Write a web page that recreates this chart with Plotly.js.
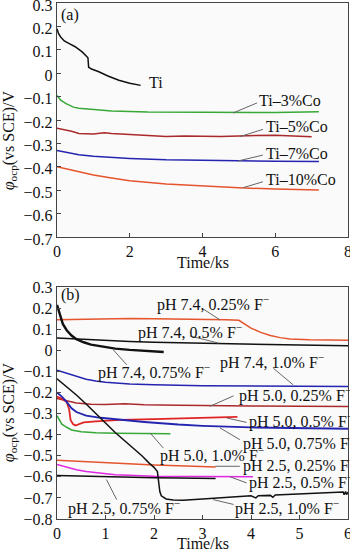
<!DOCTYPE html>
<html><head><meta charset="utf-8">
<script src="https://cdn.plot.ly/plotly-3.0.1.min.js"></script>
<style>html,body{margin:0;padding:0;background:#fff}#chart{width:350px;height:551px}</style>
</head><body><div id="chart"></div>
<script>
// ---------- Panel (a) data ----------
const tiX = [0,0.04,0.1,0.2,0.35,0.5,0.7,0.85,0.87,0.95,1.15,1.4,1.7,2.0,2.3];
const tiY = [0.19,0.17,0.155,0.138,0.125,0.113,0.09,0.066,0.025,0.018,0.006,-0.012,-0.03,-0.043,-0.052];
const co3X = [0,0.1,0.25,0.45,0.6,1,1.5,2.5,4,5,6,7.2];
const co3Y = [-0.095,-0.115,-0.13,-0.145,-0.15,-0.155,-0.162,-0.166,-0.168,-0.169,-0.168,-0.165];
const co5X = [0,0.2,0.4,0.6,0.8,1.0,1.3,1.5,2,2.5,3,3.5,4,4.5,5,5.5,6,6.5,7];
const co5Y = [-0.235,-0.24,-0.248,-0.258,-0.258,-0.26,-0.255,-0.258,-0.262,-0.265,-0.27,-0.268,-0.27,-0.27,-0.268,-0.266,-0.265,-0.268,-0.272];
const co7X = [0,0.3,0.6,1,1.5,2,3,4,5,6,7.2];
const co7Y = [-0.33,-0.34,-0.348,-0.355,-0.36,-0.364,-0.37,-0.373,-0.375,-0.376,-0.377];
const co10X = [0,0.5,1,1.5,2,3,4,5,6,7.2];
const co10Y = [-0.4,-0.418,-0.435,-0.448,-0.46,-0.474,-0.483,-0.49,-0.495,-0.499];

// ---------- Panel (b) data ----------
const p74a_X = [0,0.5,1,1.5,2,2.5,3,3.5,3.75,3.8,3.9,4.0,4.2,4.4,4.6,4.8,5.2,6];
const p74a_Y = [0.145,0.148,0.15,0.151,0.15,0.149,0.148,0.145,0.142,0.135,0.118,0.105,0.085,0.07,0.06,0.054,0.05,0.048];
const p74b_X = [0,0.5,1,1.5,2,3,4,5,6];
const p74b_Y = [0.058,0.052,0.047,0.042,0.038,0.033,0.028,0.025,0.022];
const p74c_X = [0,0.03,0.07,0.12,0.2,0.3,0.4,0.55,0.7,0.9,1.2,1.5,1.8,2.2];
const p74c_Y = [0.215,0.19,0.16,0.125,0.095,0.07,0.053,0.038,0.027,0.018,0.008,0.002,-0.003,-0.008];
const p74d_X = [0,0.2,0.4,0.6,0.8,1,1.5,2,3,4,5,6];
const p74d_Y = [-0.095,-0.11,-0.125,-0.137,-0.146,-0.152,-0.16,-0.164,-0.168,-0.17,-0.171,-0.172];
const p50a_X = [0,0.2,0.4,0.7,1,1.4,1.8,2.5,3,4,5,6];
const p50a_Y = [-0.228,-0.24,-0.25,-0.256,-0.257,-0.253,-0.258,-0.261,-0.263,-0.264,-0.265,-0.266];
const p50b_X = [0,0.1,0.2,0.25,0.28,0.33,0.38,0.45,0.55,0.8,1.3,2,2.5,3,3.5,3.72];
const p50b_Y = [-0.22,-0.23,-0.245,-0.28,-0.33,-0.35,-0.357,-0.35,-0.342,-0.337,-0.33,-0.326,-0.324,-0.32,-0.317,-0.316];
const p50c_X = [0,0.1,0.2,0.3,0.4,0.6,0.9,1.3,1.8,2.5,3,4,5,6];
const p50c_Y = [-0.2,-0.22,-0.245,-0.275,-0.293,-0.31,-0.32,-0.33,-0.34,-0.352,-0.358,-0.366,-0.37,-0.372];
const p50d_X = [0,0.1,0.2,0.3,0.5,0.8,1.2,1.8,2.34];
const p50d_Y = [-0.31,-0.35,-0.365,-0.378,-0.386,-0.391,-0.393,-0.395,-0.396];
const p25a_X = [0,0.5,1,1.5,2,2.5,3,3.27];
const p25a_Y = [-0.522,-0.528,-0.534,-0.539,-0.544,-0.548,-0.551,-0.553];
const p25b_X = [0,0.2,0.4,0.6,0.9,1.2,1.6,2,3,4.04];
const p25b_Y = [-0.542,-0.555,-0.566,-0.575,-0.584,-0.59,-0.594,-0.597,-0.599,-0.6];
const p25c_X = [0,0.5,1,1.5,2,2.5,3,3.27];
const p25c_Y = [-0.594,-0.597,-0.6,-0.602,-0.604,-0.605,-0.607,-0.608];
const p25d_X = [0,0.2,0.4,0.6,0.8,1.0,1.2,1.4,1.6,1.75,1.9,2.0,2.07,2.1,2.12,2.15,2.25,2.4,2.6,3,3.5,4,4.1,4.15,4.4,4.45,4.5,5,5.5,5.9,5.92,5.95,5.97,6];
const p25d_Y = [-0.135,-0.172,-0.212,-0.255,-0.298,-0.345,-0.39,-0.43,-0.47,-0.5,-0.535,-0.555,-0.575,-0.62,-0.67,-0.69,-0.705,-0.71,-0.711,-0.705,-0.697,-0.69,-0.7,-0.69,-0.688,-0.697,-0.686,-0.68,-0.675,-0.672,-0.685,-0.67,-0.684,-0.672];

const C = {orange:'#e5542c', black:'#111111', blue:'#2424b0', dred:'#aa2a2c', red:'#e02424', green:'#38a838', mag:'#e028e0'};

function tr(x,y,color,w,xa,ya){return {x:x,y:y,type:'scatter',mode:'lines',line:{color:color,width:w},xaxis:xa,yaxis:ya,hoverinfo:'skip'};}

const data = [
  tr(tiX,tiY,C.black,1.5,'x','y'),
  tr(co3X,co3Y,C.green,1.5,'x','y'),
  tr(co5X,co5Y,C.dred,1.5,'x','y'),
  tr(co7X,co7Y,C.blue,1.5,'x','y'),
  tr(co10X,co10Y,C.orange,1.5,'x','y'),
  tr(p74a_X,p74a_Y,C.orange,1.5,'x2','y2'),
  tr(p74b_X,p74b_Y,C.black,1.5,'x2','y2'),
  tr(p74c_X,p74c_Y,C.black,2.4,'x2','y2'),
  tr(p74d_X,p74d_Y,C.blue,1.5,'x2','y2'),
  tr(p50a_X,p50a_Y,C.dred,1.5,'x2','y2'),
  tr(p50b_X,p50b_Y,C.red,1.8,'x2','y2'),
  tr(p50c_X,p50c_Y,C.blue,1.8,'x2','y2'),
  tr(p50d_X,p50d_Y,C.green,1.5,'x2','y2'),
  tr(p25a_X,p25a_Y,C.orange,1.5,'x2','y2'),
  tr(p25b_X,p25b_Y,C.mag,1.5,'x2','y2'),
  tr(p25c_X,p25c_Y,C.black,1.5,'x2','y2'),
  tr(p25d_X,p25d_Y,C.black,1.5,'x2','y2')
];

const FONT = '"Liberation Serif", "Times New Roman", serif';
const F = '<sup>−</sup>';
// labels: [text, x, y, axisSuffix, pointer line x0,y0,x1,y1]
const labels = [
  ['(a)',0.08,0.25,'',null],
  ['Ti',2.51,-0.039,'',null],
  ['Ti–3%Co',5.53,-0.115,'',[4.84,-0.17,5.5,-0.127]],
  ['Ti–5%Co',5.71,-0.229,'',[5.03,-0.271,5.66,-0.24]],
  ['Ti–7%Co',5.71,-0.345,'',[4.98,-0.375,5.66,-0.35]],
  ['Ti–10%Co',5.71,-0.456,'',[5.12,-0.489,5.66,-0.464]],
  ['(b)',0.06,0.262,'2',null],
  ['pH 7.4, 0.25% F'+F,2.04,0.223,'2',[3.02,0.195,3.36,0.144]],
  ['pH 7.4, 0.5% F'+F,1.64,0.089,'2',[2.74,0.068,3.33,0.034]],
  ['pH 7.4, 0.75% F'+F,0.82,-0.1,'2',[1.16,0.002,1.44,-0.069]],
  ['pH 7.4, 1.0% F'+F,3.33,-0.053,'2',[4.46,-0.085,4.87,-0.164]],
  ['pH 5.0, 0.25% F'+F,3.74,-0.211,'2',[3.64,-0.216,3.15,-0.266]],
  ['pH 5.0, 0.5% F'+F,3.94,-0.331,'2',[3.91,-0.342,3.5,-0.321]],
  ['pH 5.0, 0.75% F'+F,3.81,-0.438,'2',[3.77,-0.424,3.36,-0.368]],
  ['pH 5.0, 1.0% F'+F,2.11,-0.495,'2',[2.19,-0.463,1.92,-0.392]],
  ['pH 2.5, 0.25% F'+F,3.81,-0.542,'2',[3.77,-0.55,3.26,-0.55]],
  ['pH 2.5, 0.5% F'+F,3.94,-0.621,'2',[3.91,-0.629,3.57,-0.6]],
  ['pH 2.5, 0.75% F'+F,0.2,-0.747,'2',[1.23,-0.708,1.02,-0.613]],
  ['pH 2.5, 1.0% F'+F,3.64,-0.747,'2',[3.64,-0.731,3.22,-0.708]]
];

const annotations = [];
const shapes = [];
labels.forEach(l=>{
  annotations.push({text:l[0],x:l[1],y:l[2],xref:'x'+l[3],yref:'y'+l[3],xanchor:'left',yanchor:'middle',showarrow:false,
    font:{family:FONT,size:16,color:'#111'},borderpad:0});
  if(l[4]) shapes.push({type:'line',xref:'x'+l[3],yref:'y'+l[3],x0:l[4][0],y0:l[4][1],x1:l[4][2],y1:l[4][3],line:{color:'#666',width:1}});
});
// axis titles
const ytitle = '<i>φ</i><sub>ocp</sub>(vs SCE)/V';
const tfont = {family:FONT,size:16,color:'#111'};
annotations.push({text:ytitle,xref:'paper',yref:'paper',x:-0.165,y:0.734,textangle:-90,showarrow:false,xanchor:'center',yanchor:'middle',font:tfont});
annotations.push({text:ytitle,xref:'paper',yref:'paper',x:-0.165,y:0.207,textangle:-90,showarrow:false,xanchor:'center',yanchor:'middle',font:tfont});
annotations.push({text:'Time/ks',xref:'paper',yref:'paper',x:0.5,y:0.497,showarrow:false,xanchor:'center',yanchor:'middle',font:tfont});
annotations.push({text:'Time/ks',xref:'paper',yref:'paper',x:0.5,y:-0.047,showarrow:false,xanchor:'center',yanchor:'middle',font:tfont});

const axBase = {showline:true,mirror:true,linecolor:'#444',linewidth:1.2,ticks:'inside',ticklen:4,tickcolor:'#444',
  showgrid:false,zeroline:false,ticklabeloverflow:'allow',tickfont:{family:FONT,size:16,color:'#111'}};

const layout = {
  width:350,height:551,
  margin:{l:57,r:2,t:3,b:32},
  paper_bgcolor:'#ffffff',plot_bgcolor:'#fafafa',
  showlegend:false,
  xaxis:Object.assign({},axBase,{anchor:'y',domain:[0,1],range:[0,8],dtick:2,tick0:0}),
  yaxis:Object.assign({},axBase,{anchor:'x',domain:[0.5465,1],range:[-0.7,0.3],dtick:0.1,tick0:0,ticklabelshift:2}),
  xaxis2:Object.assign({},axBase,{anchor:'y2',domain:[0,1],range:[0,6],dtick:1,tick0:0}),
  yaxis2:Object.assign({},axBase,{anchor:'x2',domain:[0,0.4496],range:[-0.8,0.3],dtick:0.1,tick0:0}),
  annotations:annotations,
  shapes:shapes
};
Plotly.newPlot('chart',data,layout,{staticPlot:true,displayModeBar:false});
</script></body></html>
